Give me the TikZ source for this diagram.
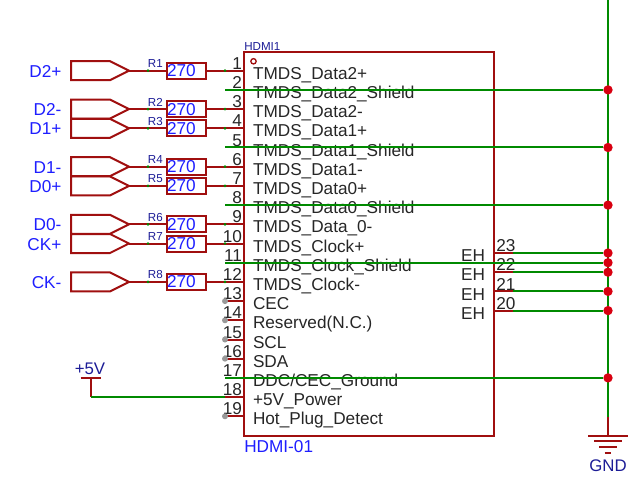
\documentclass[tikz,border=0pt]{standalone}
\usepackage{fontspec}
\setmainfont{Liberation Sans}
\usetikzlibrary{positioning}
\definecolor{pinred}{HTML}{A00F0F}
\definecolor{netgreen}{HTML}{008A00}
\definecolor{valblue}{HTML}{1E1EFF}
\definecolor{refnavy}{HTML}{1C1C96}
\definecolor{dotred}{HTML}{D80010}
\tikzset{
	x=0.75pt, y=0.75pt, % Un pixel de la imagen por unidad
	node distance=14.4pt, % Distancia entre pines
	hdmibox/.style={draw=pinred, line width=1.5pt, minimum width=187.5pt, minimum height=288pt, inner sep=0pt, outer sep=0pt}, % Cuerpo del conector
	resbox/.style={draw=pinred, line width=1.5pt, minimum height=12pt, text width=29.25pt, inner sep=0pt, outer sep=0pt, text=valblue, font=\fontsize{12.9}{14}\selectfont, align=left}, % Resistencias
	wire/.style={draw=pinred, line width=1.5pt}, % Cables rojos
	pinline/.style={draw=pinred, line width=1.5pt}, % Pines
	net/.style={draw=netgreen, line width=1.5pt}, % Redes verdes
	pinnum/.style={anchor=base east, inner sep=0pt, xshift=-0.75pt, yshift=1pt, font=\fontsize{12.9}{14}\selectfont, text=black!85}, % Numero de pin
	pinname/.style={anchor=base west, inner sep=0pt, xshift=6pt, yshift=-6.5pt, font=\fontsize{12.9}{14}\selectfont, text=black!85}, % Nombre de pin
	ehname/.style={anchor=base east, inner sep=0pt, xshift=-6pt, yshift=-6.5pt, font=\fontsize{12.9}{14}\selectfont, text=black!85}, % Texto EH
	ehnum/.style={anchor=base west, inner sep=0pt, xshift=1pt, yshift=1pt, font=\fontsize{12.9}{14}\selectfont, text=black!85}, % Numero de pin EH
	netname/.style={anchor=east, inner sep=0pt, yshift=-0.5pt, text=valblue, font=\fontsize{12.9}{14}\selectfont}, % Nombres de senal
	refdes/.style={inner sep=0pt, text=refnavy, font=\fontsize{8.7}{10}\selectfont}, % Referencias
	powername/.style={inner sep=0pt, text=refnavy, font=\fontsize{12.6}{14}\selectfont}, % Alimentacion
	tick/.style={circle, fill=netgreen, inner sep=0pt, minimum size=2.2pt}, % Punto verde
	nopin/.style={circle, fill=black!40, inner sep=0pt, minimum size=4.5pt}, % Pin libre
	dot/.style={circle, fill=dotred, inner sep=0pt, minimum size=7pt}, % Union
	port/.pic={\draw[wire, line join=miter] (0,0) -- (-19,9.5) -- (-58,9.5) -- (-58,-9.5) -- (-19,-9.5) -- cycle;} % Entrada
}
\begin{document}
\begin{tikzpicture}
	\useasboundingbox (0,0) rectangle (640,476);
	\node[hdmibox] (hdmi) at (369,232) {};
	\node[refdes, anchor=south west, yshift=1pt] (hdmi1) at (hdmi.north west) {HDMI1};
	\node[anchor=north west, inner sep=0pt, yshift=-3pt, text=valblue, font=\fontsize{12.9}{14}\selectfont] (hdmi01) at (hdmi.south west) {HDMI-01};
	\node[circle, draw=pinred, line width=1pt, inner sep=0pt, minimum size=4pt] (mark) at (253.5,414.7) {};
	% Pines de la izquierda
	\coordinate (p1) at (225,405.3);
	\coordinate[below of=p1] (p2);
	\coordinate[below of=p2] (p3);
	\coordinate[below of=p3] (p4);
	\coordinate[below of=p4] (p5);
	\coordinate[below of=p5] (p6);
	\coordinate[below of=p6] (p7);
	\coordinate[below of=p7] (p8);
	\coordinate[below of=p8] (p9);
	\coordinate[below of=p9] (p10);
	\coordinate[below of=p10] (p11);
	\coordinate[below of=p11] (p12);
	\coordinate[below of=p12] (p13);
	\coordinate[below of=p13] (p14);
	\coordinate[below of=p14] (p15);
	\coordinate[below of=p15] (p16);
	\coordinate[below of=p16] (p17);
	\coordinate[below of=p17] (p18);
	\coordinate[below of=p18] (p19);
	\draw[pinline] (p1) -- (p1 -| hdmi.west) node[pinnum] (n1) {1} node[pinname] (t1) {TMDS\_Data2+};
	\draw[pinline] (p2) -- (p2 -| hdmi.west) node[pinnum] (n2) {2} node[pinname] (t2) {TMDS\_Data2\_Shield};
	\draw[pinline] (p3) -- (p3 -| hdmi.west) node[pinnum] (n3) {3} node[pinname] (t3) {TMDS\_Data2-};
	\draw[pinline] (p4) -- (p4 -| hdmi.west) node[pinnum] (n4) {4} node[pinname] (t4) {TMDS\_Data1+};
	\draw[pinline] (p5) -- (p5 -| hdmi.west) node[pinnum] (n5) {5} node[pinname] (t5) {TMDS\_Data1\_Shield};
	\draw[pinline] (p6) -- (p6 -| hdmi.west) node[pinnum] (n6) {6} node[pinname] (t6) {TMDS\_Data1-};
	\draw[pinline] (p7) -- (p7 -| hdmi.west) node[pinnum] (n7) {7} node[pinname] (t7) {TMDS\_Data0+};
	\draw[pinline] (p8) -- (p8 -| hdmi.west) node[pinnum] (n8) {8} node[pinname] (t8) {TMDS\_Data0\_Shield};
	\draw[pinline] (p9) -- (p9 -| hdmi.west) node[pinnum] (n9) {9} node[pinname] (t9) {TMDS\_Data\_0-};
	\draw[pinline] (p10) -- (p10 -| hdmi.west) node[pinnum] (n10) {10} node[pinname] (t10) {TMDS\_Clock+};
	\draw[pinline] (p11) -- (p11 -| hdmi.west) node[pinnum] (n11) {11} node[pinname] (t11) {TMDS\_Clock\_Shield};
	\draw[pinline] (p12) -- (p12 -| hdmi.west) node[pinnum] (n12) {12} node[pinname] (t12) {TMDS\_Clock-};
	\draw[pinline] (p13) -- (p13 -| hdmi.west) node[pinnum] (n13) {13} node[pinname] (t13) {CEC};
	\draw[pinline] (p14) -- (p14 -| hdmi.west) node[pinnum] (n14) {14} node[pinname] (t14) {Reserved(N.C.)};
	\draw[pinline] (p15) -- (p15 -| hdmi.west) node[pinnum] (n15) {15} node[pinname] (t15) {SCL};
	\draw[pinline] (p16) -- (p16 -| hdmi.west) node[pinnum] (n16) {16} node[pinname] (t16) {SDA};
	\draw[pinline] (p17) -- (p17 -| hdmi.west) node[pinnum] (n17) {17} node[pinname] (t17) {DDC/CEC\_Ground};
	\draw[pinline] (p18) -- (p18 -| hdmi.west) node[pinnum] (n18) {18} node[pinname] (t18) {+5V\_Power};
	\draw[pinline] (p19) -- (p19 -| hdmi.west) node[pinnum] (n19) {19} node[pinname] (t19) {Hot\_Plug\_Detect};
	\node[nopin] (f13) at (p13) {};
	\node[nopin] (f14) at (p14) {};
	\node[nopin] (f15) at (p15) {};
	\node[nopin] (f16) at (p16) {};
	\node[nopin] (f19) at (p19) {};
	% Pines de la derecha
	\coordinate (q23) at (513,223);
	\coordinate[below of=q23] (q22);
	\coordinate[below of=q22] (q21);
	\coordinate[below of=q21] (q20);
	\draw[pinline] (q23 -| hdmi.east) node[ehname] (e23) {EH} node[ehnum] (m23) {23} -- (q23);
	\draw[pinline] (q22 -| hdmi.east) node[ehname] (e22) {EH} node[ehnum] (m22) {22} -- (q22);
	\draw[pinline] (q21 -| hdmi.east) node[ehname] (e21) {EH} node[ehnum] (m21) {21} -- (q21);
	\draw[pinline] (q20 -| hdmi.east) node[ehname] (e20) {EH} node[ehnum] (m20) {20} -- (q20);
	% Entradas y resistencias
	\coordinate (c1) at (p1 -| 129,0);
	\coordinate (c2) at (p3 -| 129,0);
	\coordinate (c3) at (p4 -| 129,0);
	\coordinate (c4) at (p6 -| 129,0);
	\coordinate (c5) at (p7 -| 129,0);
	\coordinate (c6) at (p9 -| 129,0);
	\coordinate (c7) at (p10 -| 129,0);
	\coordinate (c8) at (p12 -| 129,0);
	\pic at (c1) {port};
	\pic at (c2) {port};
	\pic at (c3) {port};
	\pic at (c4) {port};
	\pic at (c5) {port};
	\pic at (c6) {port};
	\pic at (c7) {port};
	\pic at (c8) {port};
	\node[netname, left=50.5pt of c1] (d2p) {D2+};
	\node[netname, left=50.5pt of c2] (d2n) {D2-};
	\node[netname, left=50.5pt of c3] (d1p) {D1+};
	\node[netname, left=50.5pt of c4] (d1n) {D1-};
	\node[netname, left=50.5pt of c5] (d0p) {D0+};
	\node[netname, left=50.5pt of c6] (d0n) {D0-};
	\node[netname, left=50.5pt of c7] (ckp) {CK+};
	\node[netname, left=50.5pt of c8] (ckn) {CK-};
	\node[resbox, right=28.5pt of c1] (r1) {270};
	\node[resbox, right=28.5pt of c2] (r2) {270};
	\node[resbox, right=28.5pt of c3] (r3) {270};
	\node[resbox, right=28.5pt of c4] (r4) {270};
	\node[resbox, right=28.5pt of c5] (r5) {270};
	\node[resbox, right=28.5pt of c6] (r6) {270};
	\node[resbox, right=28.5pt of c7] (r7) {270};
	\node[resbox, right=28.5pt of c8] (r8) {270};
	\node[refdes, anchor=base east, xshift=-3pt, yshift=2.3pt] (l1) at (r1.west) {R1};
	\node[refdes, anchor=base east, xshift=-3pt, yshift=2.3pt] (l2) at (r2.west) {R2};
	\node[refdes, anchor=base east, xshift=-3pt, yshift=2.3pt] (l3) at (r3.west) {R3};
	\node[refdes, anchor=base east, xshift=-3pt, yshift=2.3pt] (l4) at (r4.west) {R4};
	\node[refdes, anchor=base east, xshift=-3pt, yshift=2.3pt] (l5) at (r5.west) {R5};
	\node[refdes, anchor=base east, xshift=-3pt, yshift=2.3pt] (l6) at (r6.west) {R6};
	\node[refdes, anchor=base east, xshift=-3pt, yshift=2.3pt] (l7) at (r7.west) {R7};
	\node[refdes, anchor=base east, xshift=-3pt, yshift=2.3pt] (l8) at (r8.west) {R8};
	\draw[wire] (c1) -- node[tick] (a1) {} (r1.west) (r1.east) -- (p1);
	\draw[wire] (c2) -- node[tick] (a2) {} (r2.west) (r2.east) -- (p3);
	\draw[wire] (c3) -- node[tick] (a3) {} (r3.west) (r3.east) -- (p4);
	\draw[wire] (c4) -- node[tick] (a4) {} (r4.west) (r4.east) -- (p6);
	\draw[wire] (c5) -- node[tick] (a5) {} (r5.west) (r5.east) -- (p7);
	\draw[wire] (c6) -- node[tick] (a6) {} (r6.west) (r6.east) -- (p9);
	\draw[wire] (c7) -- node[tick] (a7) {} (r7.west) (r7.east) -- (p10);
	\draw[wire] (c8) -- node[tick] (a8) {} (r8.west) (r8.east) -- (p12);
	\node[tick] (b1) at (p1) {};
	\node[tick] (b3) at (p3) {};
	\node[tick] (b4) at (p4) {};
	\node[tick] (b6) at (p6) {};
	\node[tick] (b7) at (p7) {};
	\node[tick] (b9) at (p9) {};
	\node[tick] (b10) at (p10) {};
	\node[tick] (b12) at (p12) {};
	% Tierra
	\coordinate (railtop) at (608,476);
	\coordinate (railend) at (608,59);
	\coordinate (gnd1) at (608,40);
	\coordinate[below=3.8pt of gnd1] (gnd2);
	\coordinate[below=4.3pt of gnd2] (gnd3);
	\coordinate[below=4.5pt of gnd3] (gnd4);
	\draw[net] (railtop) -- (railend);
	\draw[wire] (railend) -- (gnd1);
	\draw[wire] ([xshift=-15pt]gnd1) -- ([xshift=15pt]gnd1);
	\draw[wire] ([xshift=-10.5pt]gnd2) -- ([xshift=10.5pt]gnd2);
	\draw[wire] ([xshift=-6.5pt]gnd3) -- ([xshift=6.5pt]gnd3);
	\draw[wire] ([xshift=-2.5pt]gnd4) -- ([xshift=2.5pt]gnd4);
	\node[powername, anchor=center] (gnd) at (608,10.5) {GND};
	% Redes de blindaje
	\node[dot] (j2) at (p2 -| railtop) {};
	\node[dot] (j5) at (p5 -| railtop) {};
	\node[dot] (j8) at (p8 -| railtop) {};
	\node[dot] (j11) at (p11 -| railtop) {};
	\node[dot] (j17) at (p17 -| railtop) {};
	\node[dot] (j23) at (q23 -| railtop) {};
	\node[dot] (j22) at (q22 -| railtop) {};
	\node[dot] (j21) at (q21 -| railtop) {};
	\node[dot] (j20) at (q20 -| railtop) {};
	\draw[net] (p2) -- (j2);
	\draw[net] (p5) -- (j5);
	\draw[net] (p8) -- (j8);
	\draw[net] (p11) -- (j11);
	\draw[net] (p17) -- (j17);
	\draw[net] (q23) -- (j23);
	\draw[net] (q22) -- (j22);
	\draw[net] (q21) -- (j21);
	\draw[net] (q20) -- (j20);
	% Alimentacion
	\coordinate (v5top) at (90.5,98);
	\coordinate (v5low) at (p18 -| v5top);
	\draw[pinline] ([xshift=-7.5pt]v5top) -- ([xshift=7.5pt]v5top);
	\draw[pinline] (v5top) -- (v5low);
	\draw[net] (v5low) -- (p18);
	\node[powername, anchor=base] (v5) at (90,102) {+5V};
\end{tikzpicture}
\end{document}
